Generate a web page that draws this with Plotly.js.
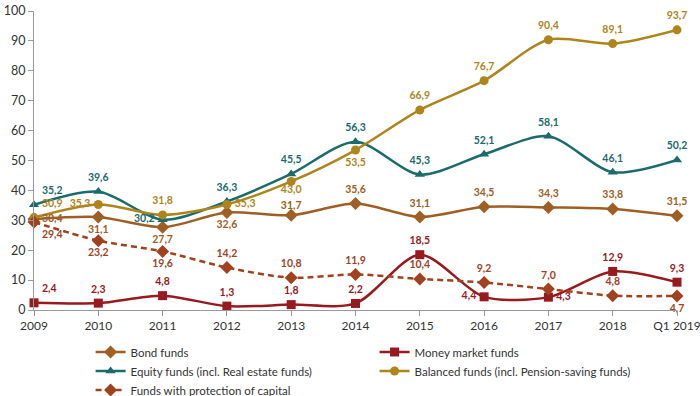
<!DOCTYPE html>
<html>
<head>
<meta charset="utf-8">
<script src="https://cdn.plot.ly/plotly-3.0.1.min.js"></script>
<style>html,body{margin:0;padding:0;background:#fff;}#chart{width:700px;height:396px;}</style>
</head>
<body>
<div id="chart"></div>
<script>
var categories = ["2009","2010","2011","2012","2013","2014","2015","2016","2017","2018","Q1 2019"];
var bondFunds = [30.4, 31.1, 27.7, 32.6, 31.7, 35.6, 31.1, 34.5, 34.3, 33.8, 31.5];
var moneyMarketFunds = [2.4, 2.3, 4.8, 1.3, 1.8, 2.2, 18.5, 4.4, 4.3, 12.9, 9.3];
var equityFunds = [35.2, 39.6, 30.2, 36.3, 45.5, 56.3, 45.3, 52.1, 58.1, 46.1, 50.2];
var balancedFunds = [30.9, 35.3, 31.8, 35.3, 43.0, 53.5, 66.9, 76.7, 90.4, 89.1, 93.7];
var protectionFunds = [29.4, 23.2, 19.6, 14.2, 10.8, 11.9, 10.4, 9.2, 7.0, 4.8, 4.7];
var seriesNames = ["Bond funds", "Money market funds", "Equity funds (incl. Real estate funds)", "Balanced funds (incl. Pension-saving funds)", "Funds with protection of capital"];
var yTicks = [0,10,20,30,40,50,60,70,80,90,100];

// label placement (style only)
var bondPos = ["middle right","bottom center","bottom center","bottom center","top center","top center","top center","top center","top center","top center","top center"];
var moneyPos = ["top right","top center","top center","top center","top center","top center","top center","middle left","middle right","top center","top center"];
var equityPos = ["top right","top center","middle left","top center","top center","top center","top center","top center","top center","top center","top center"];
var balancedPos = ["top right","middle left","top center","middle right","bottom center","bottom center","top center","top center","top center","top center","top center"];
var protPos = ["bottom right","bottom center","bottom center","top center","top center","top center","top center","top center","top center","top center","bottom center"];
var tightLabel = {bond: [4], balanced: [4]};

var C = {
  bond: "#9E5E24",
  money: "#961A1E",
  equity: "#1C6B6B",
  balanced: "#AD851C",
  prot: "#A0421F"
};

function lbl(arr){ return arr.map(function(v){ return v.toFixed(1).replace(".", ","); }); }
var xi = categories.map(function(c, i){ return i; });

function lineTrace(name, y, color, symbol, size, dash){
  return {
    type: "scatter", mode: "lines+markers", name: name, x: xi, y: y,
    line: {color: color, width: 2.5, shape: "spline", smoothing: 0.8, dash: dash || "solid"},
    marker: {color: color, symbol: symbol, size: size},
    cliponaxis: false, hoverinfo: "y"
  };
}
function textTrace(y, color, pos, tight){
  var sizes = y.map(function(v, i){ return (tight && tight.indexOf(i) >= 0) ? 4 : 11; });
  return {
    type: "scatter", mode: "markers+text", x: xi, y: y, text: lbl(y), textposition: pos,
    marker: {size: sizes, opacity: 0, color: color},
    textfont: {family: "Lato, 'Open Sans', sans-serif", size: 10.5, color: color, weight: "bold"},
    showlegend: false, hoverinfo: "skip", cliponaxis: false
  };
}

var data = [
  lineTrace(seriesNames[0], bondFunds, C.bond, "diamond", 10),
  lineTrace(seriesNames[1], moneyMarketFunds, C.money, "square", 9),
  lineTrace(seriesNames[2], equityFunds, C.equity, "triangle-up", 9),
  lineTrace(seriesNames[3], balancedFunds, C.balanced, "circle", 9),
  lineTrace(seriesNames[4], protectionFunds, C.prot, "diamond", 10, "6px,4px"),
  textTrace(bondFunds, C.bond, bondPos, tightLabel.bond),
  textTrace(moneyMarketFunds, C.money, moneyPos),
  textTrace(equityFunds, C.equity, equityPos),
  textTrace(balancedFunds, C.balanced, balancedPos, tightLabel.balanced),
  textTrace(protectionFunds, C.prot, protPos)
];

var layout = {
  width: 700, height: 396,
  margin: {l: 34, r: 23, t: 11, b: 86, autoexpand: false},
  paper_bgcolor: "#fff", plot_bgcolor: "#fff",
  font: {family: "Lato, 'Open Sans', sans-serif", size: 12, color: "#333"},
  showlegend: true,
  xaxis: {
    range: [0, 10], tickvals: xi, ticktext: categories,
    showgrid: false, zeroline: false, showline: true, linecolor: "#999", linewidth: 1,
    ticks: "outside", ticklen: 5, tickcolor: "#999", ticklabeloverflow: "allow",
    tickfont: {size: 12, color: "#333"}, fixedrange: true
  },
  yaxis: {
    range: [0, 100], tickvals: yTicks,
    showgrid: false, zeroline: false, showline: true, linecolor: "#999", linewidth: 1,
    ticks: "outside", ticklen: 5, tickcolor: "#999",
    tickfont: {size: 12.5, color: "#333"}, fixedrange: true
  },
  legend: {
    orientation: "h", x: 0.088, xanchor: "left", y: -0.092, yanchor: "top",
    entrywidth: 239, entrywidthmode: "pixels", tracegroupgap: 0,
    font: {size: 11.5, color: "#333"}, bgcolor: "rgba(0,0,0,0)", traceorder: "normal"
  }
};

Plotly.newPlot("chart", data, layout, {displayModeBar: false, staticPlot: true});
</script>
</body>
</html>
